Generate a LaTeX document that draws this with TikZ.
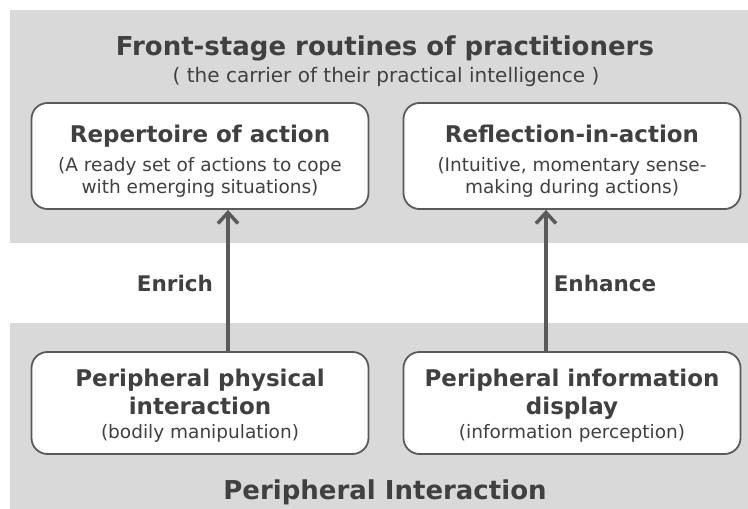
\documentclass[tikz,border=0pt]{standalone}
\usepackage{fontspec}
\setmainfont{DejaVu Sans}
\usetikzlibrary{arrows.meta}
\definecolor{band}{HTML}{D9D9D9}
\definecolor{ink}{HTML}{404040}
\definecolor{edge}{HTML}{5A5A5A}
\tikzset{
  card/.style={draw=edge, line width=1.8pt, fill=white, rounded corners=16pt, minimum height=#1, minimum width=337pt, inner sep=0pt},
  cardtext/.style={align=center, text=ink, font=\fontsize{18.5}{21.5}\selectfont},
  arr/.style={draw=edge, line width=4pt, -{Straight Barb[length=11pt,width=20pt,line width=3.5pt]}},
  lab/.style={font=\bfseries\fontsize{21.5}{25}\selectfont, text=ink}
}
\newcommand{\hd}[1]{{\bfseries\fontsize{23}{26}\selectfont #1}}
\begin{document}
\begin{tikzpicture}[x=1pt,y=-1pt]
\useasboundingbox (0,0) rectangle (748,509);
\fill[white] (0,0) rectangle (748,509);
\fill[band] (10,10) rectangle (748,243);
\fill[band] (10,323) rectangle (748,509);
\node[font=\bfseries\fontsize{26}{30}\selectfont, text=ink] (title) at (385,48) {Front-stage routines of practitioners};
\node[font=\fontsize{20}{24}\selectfont, text=ink] (subtitle) at (386,77) {( the carrier of their practical intelligence )};
\node[card=106pt] (rep) at (200,156) {};
\node[cardtext] (reptext) at (rep.center) [yshift=-5pt]
  {\hd{Repertoire of action}\\[8pt](A ready set of actions to cope\\with emerging situations)};
\node[card=106pt] (ref) at (572,156) {};
\node[cardtext] (reftext) at (ref.center) [yshift=-5pt]
  {\hd{Reflection-in-action}\\[8pt](Intuitive, momentary sense-\\making during actions)};
\node[card=102pt] (ppi) at (200,403) {};
\node[cardtext] (ppitext) at (ppi.center) [yshift=-3pt]
  {\hd{Peripheral physical}\\[4pt]\hd{interaction}\\[3pt](bodily manipulation)};
\node[card=102pt] (pid) at (572,403) {};
\node[cardtext] (pidtext) at (pid.center) [yshift=-3pt]
  {\hd{Peripheral information}\\[4pt]\hd{display}\\[3pt](information perception)};
\node[font=\bfseries\fontsize{26}{30}\selectfont, text=ink] (pi) at (385,492) {Peripheral Interaction};
\draw[arr] (ppi.north -| 228,0) -- (rep.south -| 228,0);
\draw[arr] (pid.north -| 546,0) -- (ref.south -| 546,0);
\node[lab] (enrich) at (175,283) {Enrich};
\node[lab] (enhance) at (605,283) {Enhance};
\end{tikzpicture}
\end{document}
